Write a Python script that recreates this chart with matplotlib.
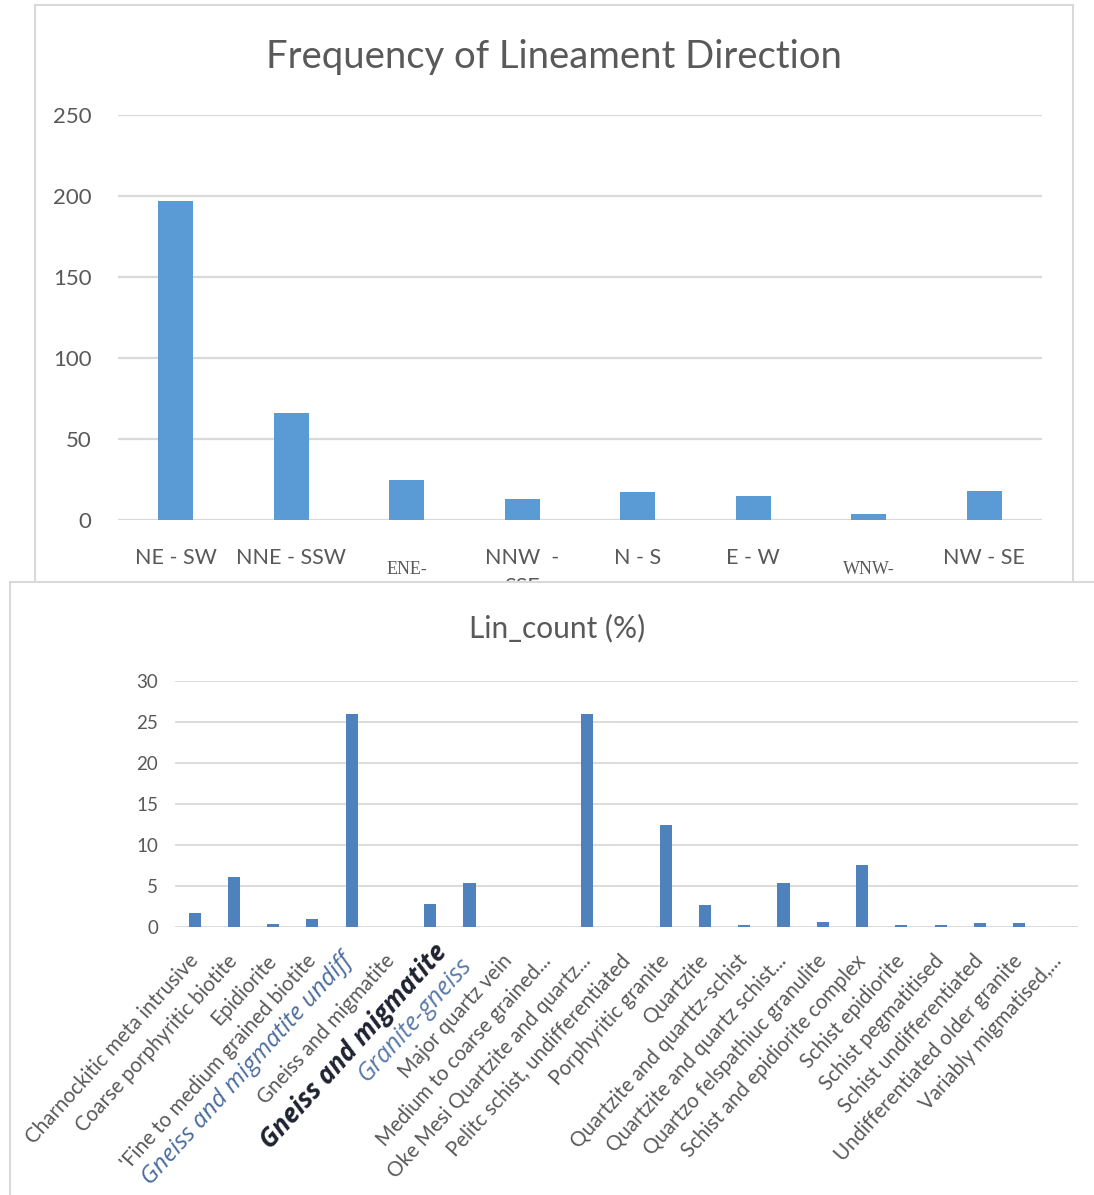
import matplotlib.pyplot as plt
from matplotlib.transforms import ScaledTranslation
import numpy as np

# lineament direction counts
directions = ["NE - SW", "NNE - SSW", "ENE-\nWSW", "NNW  -\nSSE", "N - S", "E - W", "WNW-\nESE", "NW - SE"]
dir_counts = [197, 66, 25, 13, 17, 15, 4, 18]

# lineament share per lithology (%)
lithology = ["Charnockitic meta intrusive", "Coarse porphyritic biotite", "Epidiorite",
             "'Fine to medium grained biotite", "Gneiss and migmatite undiff", "Gneiss and migmatite",
             "Gneiss and migmatite", "Granite-gneiss", "Major quartz vein", "Medium to coarse grained...",
             "Oke Mesi Quartzite and quartz...", "Pelitc schist, undifferentiated", "Porphyritic granite",
             "Quartzite", "Quartzite and quarttz-schist", "Quartzite and quartz schist...",
             "Quartzo felspathiuc granulite", "Schist and epidiorite complex", "Schist epidiorite",
             "Schist pegmatitised", "Schist undifferentiated", "Undifferentiated older granite",
             "Variably migmatised,..."]
lin_pct = [1.7, 6.1, 0.35, 1.0, 26.0, 0, 2.85, 5.35, 0, 0, 26.0, 0, 12.4, 2.7, 0.2, 5.35,
           0.65, 7.55, 0.2, 0.2, 0.5, 0.5, 0]

W, H = 1094, 1195
GRID = '#d9d9d9'
TXT = '#595959'
FONT = 'Lato'

def box(x0, y0, x1, y1):
    return [x0 / W, 1 - y1 / H, (x1 - x0) / W, (y1 - y0) / H]

def panel(rect, z):
    p = fig.add_axes(rect, zorder=z)
    p.set_xticks([])
    p.set_yticks([])
    p.set_facecolor('white')
    for s in p.spines.values():
        s.set_color(GRID)
        s.set_linewidth(1.5)
    return p

fig = plt.figure(figsize=(W / 100, H / 100), dpi=100)

# ---- top chart ----
panel(box(35, 5, 1073, 620), 0)
ax1 = fig.add_axes(box(118, 115, 1042, 520), zorder=1)
x1 = np.arange(len(directions))
ax1.bar(x1, dir_counts, width=0.30, color='#5B9BD5', zorder=3)
ax1.set_xlim(-0.5, len(directions) - 0.5)
ax1.set_ylim(0, 250)
ax1.set_yticks(np.arange(0, 251, 50))
ax1.yaxis.grid(True, color=GRID, lw=1.6)
ax1.set_axisbelow(True)
for s in ax1.spines.values():
    s.set_visible(False)
ax1.tick_params(axis='y', length=0, pad=19, labelsize=16, labelcolor=TXT)
for t in ax1.get_yticklabels():
    t.set_fontfamily(FONT)
ax1.set_xticks([])
xt = ax1.get_xaxis_transform()
for i, lab in enumerate(directions):
    if lab.startswith(("ENE", "WNW")):
        ax1.text(i, -0.1, lab, transform=xt, ha='center', va='top', fontsize=13,
                 family='Liberation Serif', color=TXT, linespacing=1.9)
    else:
        ax1.text(i, -0.07, lab, transform=xt, ha='center', va='top', fontsize=15.5,
                 family=FONT, color=TXT, linespacing=1.55)
fig.text(554 / W, 1 - 57 / H, "Frequency of Lineament Direction", ha='center', va='center',
         fontsize=27.5, family=FONT, color=TXT)

# ---- bottom chart ----
panel(box(10, 582, 1110, 1210), 2)
ax2 = fig.add_axes(box(175, 681, 1078, 927), zorder=3)
x2 = np.arange(len(lithology))
ax2.bar(x2, lin_pct, width=0.31, color='#4F81BD', zorder=3)
ax2.set_xlim(-0.5, len(lithology) - 0.5)
ax2.set_ylim(0, 30)
ax2.set_yticks(np.arange(0, 31, 5))
ax2.yaxis.grid(True, color=GRID, lw=1.3)
ax2.set_axisbelow(True)
for s in ax2.spines.values():
    s.set_visible(False)
ax2.tick_params(axis='y', length=0, pad=12, labelsize=13.5, labelcolor=TXT)
ax2.tick_params(axis='x', length=0, pad=22)
for t in ax2.get_yticklabels():
    t.set_fontfamily(FONT)
ax2.set_xticks(x2)
ax2.set_xticklabels(lithology, rotation=48, ha='right', va='center',
                    rotation_mode='anchor', fontsize=14.8, color=TXT, family=FONT)
labels = ax2.get_xticklabels()
# three names carry their own lettering
labels[4].set(family='Open Sans', style='italic', fontsize=17.5, color='#4a6c9e')
labels[6].set(family='Open Sans', style='italic', weight='bold', fontsize=18.5, color='#1f2230')
labels[7].set(family='Open Sans', style='italic', fontsize=18, color='#5a7bab')
for k, dx, dy in ((4, -3, 0), (6, 12, 10), (7, -2, -4)):
    labels[k].set_transform(labels[k].get_transform() +
                            ScaledTranslation(dx / 100, dy / 100, fig.dpi_scale_trans))
fig.text(557 / W, 1 - 628 / H, "Lin_count (%)", ha='center', va='center',
         fontsize=21.5, family=FONT, color=TXT)

fig.savefig('out.png', dpi=100)
